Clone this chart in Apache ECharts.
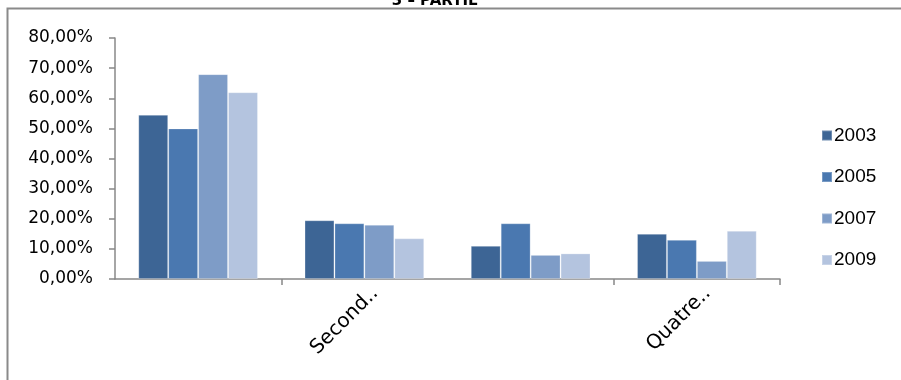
<!DOCTYPE html>
<html>
<head>
<meta charset="utf-8">
<script src="https://cdn.jsdelivr.net/npm/echarts@6/dist/echarts.min.js"></script>
<style>
  html, body { margin: 0; padding: 0; background: #fff; }
  #chart { width: 901px; height: 380px; }
</style>
</head>
<body>
<div id="chart"></div>
<script>
// Sector shares by survey year
const categories = ['Primaire', 'Secondaire', 'Tertiaire', 'Quatre et plus'];
const years = ['2003', '2005', '2007', '2009'];
const values2003 = [0.545, 0.195, 0.110, 0.150];
const values2005 = [0.500, 0.185, 0.185, 0.130];
const values2007 = [0.680, 0.180, 0.080, 0.060];
const values2009 = [0.620, 0.135, 0.085, 0.160];
const yTicks = [0, 0.1, 0.2, 0.3, 0.4, 0.5, 0.6, 0.7, 0.8];

const seriesValues = [values2003, values2005, values2007, values2009];
const colors = ['#3d6595', '#4a78b0', '#7e9cc7', '#b4c4df'];

const axisGray = '#888888';
const labelFont = 'DejaVu Sans';

const chart = echarts.init(document.getElementById('chart'), null, { renderer: 'canvas' });

chart.setOption({
  animation: false,
  backgroundColor: '#ffffff',
  title: {
    text: '3 – PARTIE',
    left: 430,
    textAlign: 'center',
    top: -11,
    textStyle: { fontFamily: labelFont, fontWeight: 'bold', fontSize: 15, color: '#000' }
  },
  graphic: [{
    type: 'polyline',
    shape: { points: [[7.5, 400], [7.5, 8.5], [910, 8.5]] },
    style: { stroke: '#8a8a8a', lineWidth: 2, fill: null },
    silent: true
  }],
  grid: { left: 115, right: 121, top: 38, bottom: 101, containLabel: false },
  legend: {
    orient: 'vertical',
    left: 821,
    top: 126,
    padding: 0,
    itemWidth: 10,
    itemHeight: 10,
    itemGap: 22.5,
    icon: 'rect',
    textStyle: { fontFamily: 'Liberation Sans', fontSize: 19, color: '#000', padding: [0, 0, 0, -3] },
    data: years
  },
  xAxis: {
    type: 'category',
    data: categories,
    axisLine: { show: true, lineStyle: { color: axisGray, width: 1.5 } },
    axisTick: { show: true, length: 6, lineStyle: { color: axisGray, width: 1.5 } },
    axisLabel: {
      interval: (i) => i % 2 === 1,
      rotate: 45,
      margin: 22,
      padding: [0, -15, 0, 0],
      fontFamily: labelFont,
      fontSize: 20,
      color: '#000',
      formatter: (v) => v.length > 6 ? v.slice(0, 6) + '..' : v
    },
    splitLine: { show: false }
  },
  yAxis: {
    type: 'value',
    min: yTicks[0],
    max: yTicks[yTicks.length - 1],
    interval: 0.1,
    axisLine: { show: true, lineStyle: { color: axisGray, width: 1.5 } },
    axisTick: { show: true, length: 6, lineStyle: { color: axisGray, width: 1.5 } },
    axisLabel: {
      margin: 22,
      fontFamily: labelFont,
      fontSize: 17,
      color: '#000',
      formatter: (v) => (v * 100).toFixed(2).replace('.', ',') + '%'
    },
    splitLine: { show: false }
  },
  series: years.map((y, k) => ({
    name: y,
    type: 'bar',
    data: seriesValues[k],
    barGap: '0%',
    barCategoryGap: '28%',
    itemStyle: {
      color: colors[k],
      borderColor: 'rgba(255,255,255,0.25)',
      borderWidth: 1
    }
  }))
});
</script>
</body>
</html>
